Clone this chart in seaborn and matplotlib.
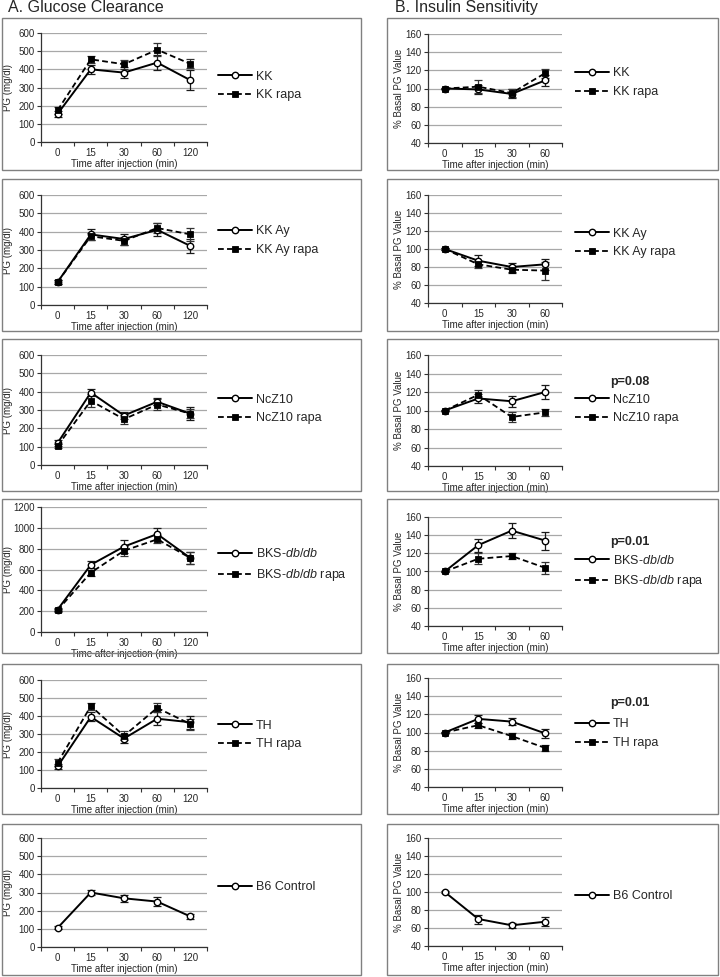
import numpy as np
import matplotlib
matplotlib.use('Agg')
import matplotlib.pyplot as plt
from matplotlib.patches import Rectangle
import seaborn as sns

# ---------------- data ----------------
GTT_TIMES = ['0', '15', '30', '60', '120']
ITT_TIMES = ['0', '15', '30', '60']

STRAINS = ['KK', 'KK Ay', 'NcZ10', 'BKS-$\\mathit{db/db}$', 'TH', 'B6 Control']
P_VALUES = [None, None, 'p=0.08', 'p=0.01', 'p=0.01', None]

# A. glucose clearance, PG (mg/dl)
kk_gtt = [155, 400, 382, 437, 340]
kk_gtt_err = [15, 25, 32, 40, 55]
kk_rapa_gtt = [175, 455, 428, 508, 430]
kk_rapa_gtt_err = [20, 20, 25, 35, 25]

kkay_gtt = [125, 385, 360, 410, 322]
kkay_gtt_err = [10, 30, 30, 35, 40]
kkay_rapa_gtt = [125, 375, 350, 420, 385]
kkay_rapa_gtt_err = [10, 20, 20, 25, 35]

ncz_gtt = [120, 395, 270, 345, 280]
ncz_gtt_err = [15, 20, 20, 20, 35]
ncz_rapa_gtt = [105, 350, 250, 330, 280]
ncz_rapa_gtt_err = [10, 35, 25, 30, 25]

bks_gtt = [215, 645, 820, 940, 710]
bks_gtt_err = [15, 35, 60, 55, 60]
bks_rapa_gtt = [210, 570, 780, 890, 710]
bks_rapa_gtt_err = [15, 30, 50, 40, 55]

th_gtt = [120, 395, 275, 385, 365]
th_gtt_err = [12, 25, 25, 35, 35]
th_rapa_gtt = [140, 455, 290, 445, 355]
th_rapa_gtt_err = [20, 20, 25, 25, 30]

b6_gtt = [105, 300, 268, 250, 168]
b6_gtt_err = [8, 15, 20, 25, 12]

# B. insulin sensitivity, % basal PG
kk_itt = [100, 99, 94, 109]
kk_itt_err = [1, 5, 5, 6]
kk_rapa_itt = [100, 102, 95, 117]
kk_rapa_itt_err = [1, 7, 4, 5]

kkay_itt = [100, 87, 80, 83]
kkay_itt_err = [1, 6, 5, 6]
kkay_rapa_itt = [100, 83, 77, 76]
kkay_rapa_itt_err = [1, 4, 4, 10]

ncz_itt = [100, 113, 110, 120]
ncz_itt_err = [1, 5, 6, 8]
ncz_rapa_itt = [100, 117, 93, 98]
ncz_rapa_itt_err = [1, 5, 5, 4]

bks_itt = [100, 129, 145, 134]
bks_itt_err = [1, 7, 8, 10]
bks_rapa_itt = [100, 114, 117, 104]
bks_rapa_itt_err = [1, 6, 3, 7]

th_itt = [100, 115, 112, 99]
th_itt_err = [1, 4, 4, 5]
th_rapa_itt = [100, 108, 96, 83]
th_rapa_itt_err = [1, 3, 3, 3]

b6_itt = [100, 70, 63, 67]
b6_itt_err = [1, 5, 3, 5]

GTT_TICKS = [0, 100, 200, 300, 400, 500, 600]
BKS_GTT_TICKS = [0, 200, 400, 600, 800, 1000, 1200]
ITT_TICKS = [40, 60, 80, 100, 120, 140, 160]

gtt_rows = [
    (kk_gtt, kk_gtt_err, kk_rapa_gtt, kk_rapa_gtt_err, GTT_TICKS),
    (kkay_gtt, kkay_gtt_err, kkay_rapa_gtt, kkay_rapa_gtt_err, GTT_TICKS),
    (ncz_gtt, ncz_gtt_err, ncz_rapa_gtt, ncz_rapa_gtt_err, GTT_TICKS),
    (bks_gtt, bks_gtt_err, bks_rapa_gtt, bks_rapa_gtt_err, BKS_GTT_TICKS),
    (th_gtt, th_gtt_err, th_rapa_gtt, th_rapa_gtt_err, GTT_TICKS),
    (b6_gtt, b6_gtt_err, None, None, GTT_TICKS),
]
itt_rows = [
    (kk_itt, kk_itt_err, kk_rapa_itt, kk_rapa_itt_err, ITT_TICKS),
    (kkay_itt, kkay_itt_err, kkay_rapa_itt, kkay_rapa_itt_err, ITT_TICKS),
    (ncz_itt, ncz_itt_err, ncz_rapa_itt, ncz_rapa_itt_err, ITT_TICKS),
    (bks_itt, bks_itt_err, bks_rapa_itt, bks_rapa_itt_err, ITT_TICKS),
    (th_itt, th_itt_err, th_rapa_itt, th_rapa_itt_err, ITT_TICKS),
    (b6_itt, b6_itt_err, None, None, ITT_TICKS),
]

# ---------------- layout (pixels) ----------------
W, H = 720, 977
BOX_TOP = [18, 179, 339, 499, 664, 824]
BOX_BOT = [170, 331, 491, 653, 814, 975]
BOX_X = [(2, 361), (387, 718)]
AX_X = [(41, 207), (428, 562)]
YLABEL_X = [8.5, 399]
GTT_AX_Y = [(33, 142), (195, 305), (355, 465), (507, 632), (680, 788), (838, 947)]
ITT_AX_Y = [(34, 143), (195, 303), (355, 466), (517, 626), (678, 787), (838, 946)]
LEG_X = [218, 575]
GTT_LEG_Y = [86, 240.5, 409, 565, 735, 887]
ITT_LEG_Y = [82.5, 243, 409, 571.5, 733.5, 896]
P_Y = [None, None, 382, 542, 703, None]

sns.set_style('white')
plt.rcParams['font.family'] = ['Liberation Sans', 'DejaVu Sans']
plt.rcParams['mathtext.fontset'] = 'custom'
plt.rcParams['mathtext.rm'] = 'Liberation Sans'
plt.rcParams['mathtext.it'] = 'Liberation Sans:italic'

fig = plt.figure(figsize=(W / 100, H / 100), dpi=100)
fig.patch.set_facecolor('white')


def fx(px):
    return px / W


def fy(py):
    return 1 - py / H


def draw_panel(ax, times, ctrl, ctrl_err, rapa, rapa_err, yticks, ylabel):
    x = np.arange(len(times))
    handles = []
    ax.errorbar(x, ctrl, yerr=ctrl_err, fmt='none', ecolor='#1a1a1a',
                elinewidth=0.9, capsize=2.6, capthick=0.9, zorder=3)
    sns.lineplot(x=x, y=ctrl, ax=ax, color='black', lw=1.4, marker='o',
                 markersize=4.6, markerfacecolor='white', markeredgecolor='black',
                 markeredgewidth=1.0, errorbar=None, zorder=4)
    handles.append(ax.lines[-1])
    if rapa is not None:
        ax.errorbar(x, rapa, yerr=rapa_err, fmt='none', ecolor='#333333',
                    elinewidth=0.9, capsize=2.6, capthick=0.9, zorder=3)
        sns.lineplot(x=x, y=rapa, ax=ax, color='black', lw=1.3,
                     linestyle=(0, (3.2, 1.8)), marker='s', markersize=4.2,
                     markerfacecolor='black', markeredgecolor='black',
                     markeredgewidth=0.6, errorbar=None, zorder=5)
        handles.append(ax.lines[-1])

    ax.set_xlim(-0.5, len(times) - 0.5)
    ax.set_xticks(x)
    ax.set_xticklabels(times)
    ax.set_xticks(np.arange(-0.5, len(times)), minor=True)
    ax.tick_params(axis='x', which='major', length=0, pad=4.0, labelsize=7)
    ax.tick_params(axis='x', which='minor', bottom=True, length=3, width=0.8,
                   direction='out', color='#333333')
    ax.set_ylim(yticks[0], yticks[-1])
    ax.set_yticks(yticks)
    ax.tick_params(axis='y', left=True, length=3, width=0.8, direction='out',
                   pad=1.5, labelsize=7, color='#333333')
    ax.yaxis.grid(True, color='#a8a8a8', lw=0.9)
    ax.xaxis.grid(False)
    ax.set_axisbelow(True)
    sns.despine(ax=ax)
    for s in ('left', 'bottom'):
        ax.spines[s].set_color('#333333')
        ax.spines[s].set_linewidth(0.9)
    ax.set_xlabel('Time after injection (min)', fontsize=7, labelpad=1.0)
    ax.set_ylabel(ylabel, fontsize=7, va='center')
    ax.set_facecolor('white')
    return handles


for col, rows in enumerate([gtt_rows, itt_rows]):
    ax_y = GTT_AX_Y if col == 0 else ITT_AX_Y
    leg_y = GTT_LEG_Y if col == 0 else ITT_LEG_Y
    times = GTT_TIMES if col == 0 else ITT_TIMES
    ylabel = 'PG (mg/dl)' if col == 0 else '% Basal PG Value'
    for r, (ctrl, ctrl_err, rapa, rapa_err, yticks) in enumerate(rows):
        # panel frame
        bx0, bx1 = BOX_X[col]
        fig.patches.append(Rectangle((fx(bx0), fy(BOX_BOT[r])), fx(bx1 - bx0),
                                     (BOX_BOT[r] - BOX_TOP[r]) / H,
                                     transform=fig.transFigure, fill=False,
                                     ec='#808080', lw=1.0, zorder=0))
        x0, x1 = AX_X[col]
        y0, y1 = ax_y[r]
        ax = fig.add_axes([fx(x0), fy(y1), fx(x1 - x0), (y1 - y0) / H])
        handles = draw_panel(ax, times, ctrl, ctrl_err, rapa, rapa_err, yticks, ylabel)
        ax.yaxis.set_label_coords((YLABEL_X[col] - x0) / (x1 - x0), 0.5)
        labels = [STRAINS[r]]
        if rapa is not None:
            labels.append(STRAINS[r] + ' rapa')
        ax.legend(handles, labels, loc='center left',
                  bbox_to_anchor=(fx(LEG_X[col]), fy(leg_y[r])),
                  bbox_transform=fig.transFigure, frameon=False, fontsize=9,
                  borderpad=0, borderaxespad=0, handlelength=2.75,
                  handletextpad=0.3, labelspacing=0.55)
        if col == 1 and P_VALUES[r] is not None:
            fig.text(fx(610), fy(P_Y[r]), P_VALUES[r], fontsize=9,
                     fontweight='bold', ha='left', va='center')

fig.text(fx(8), fy(12), 'A. Glucose Clearance', fontsize=11.5, ha='left', va='baseline')
fig.text(fx(395), fy(12), 'B. Insulin Sensitivity', fontsize=11.5, ha='left', va='baseline')

fig.savefig('out.png', dpi=100, facecolor='white')
